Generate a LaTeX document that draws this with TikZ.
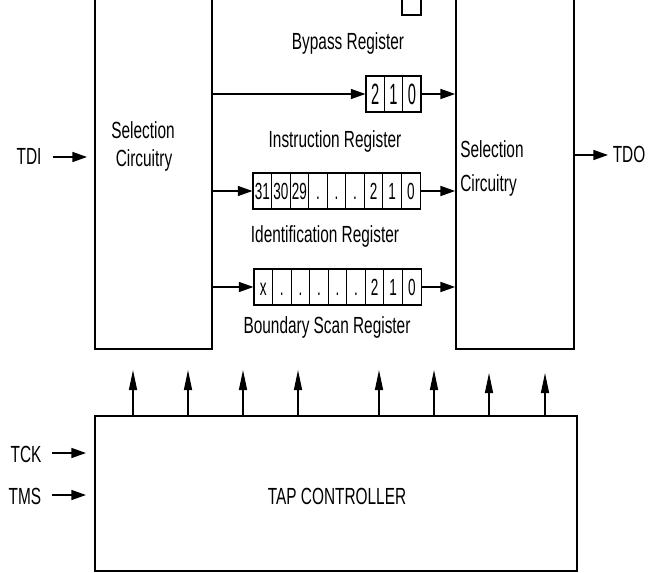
\documentclass[tikz,border=0pt]{standalone}
\usepackage{fontspec}
\setmainfont{Liberation Sans}[FakeStretch=0.66]
\newfontfamily\bigdigits{Liberation Sans}[FakeStretch=0.5]
\newfontfamily\celldigits{Liberation Sans}[FakeStretch=0.58]
\usetikzlibrary{arrows.meta,fit}
\begin{document}
\begin{tikzpicture}[x=0.75pt,y=-0.75pt,
  box/.style={draw,line width=1.3pt,inner sep=0pt},
  cell/.style={draw,line width=0.8pt,minimum width=13.92pt,minimum height=27pt,inner sep=0pt,
    text height=12.3pt,text depth=0pt,font=\celldigits\fontsize{17.5}{17.5}\selectfont},
  bcell/.style={cell,minimum width=13.75pt,text height=15.6pt,font=\bigdigits\fontsize{22}{22}\selectfont},
  arr/.style={line width=1.1pt,-{Triangle[length=11pt,width=7.5pt]}},
  uarr/.style={line width=1pt,-{Triangle[length=15pt,width=6pt]}},
  lbl/.style={anchor=base,inner sep=0pt,font=\fontsize{17.5}{17.5}\selectfont}]
\useasboundingbox (0,0) rectangle (648,573);
\clip (0,0) rectangle (648,573);
% main blocks
\node[box,fit={(95,-20) (212,349)}] (lsel) {};
\node[box,fit={(456,-20) (574,349)}] (rsel) {};
\node[box,fit={(95,416) (577,571)}] (tap) {};
\node[draw,line width=0.8pt,inner sep=0pt,fit={(402,-20) (421,15)}] (topbox) {};
% texts in blocks
\node[lbl] (lsel1) at (143,139) {Selection};
\node[lbl] (lsel2) at (144,167) {Circuitry};
\node[lbl,anchor=base west] (rsel1) at (460,158) {Selection};
\node[lbl,anchor=base west] (rsel2) at (460,192) {Circuitry};
\node[lbl] (taptxt) at (337,504) {TAP CONTROLLER};
% register labels
\node[lbl] (bpl) at (348,50) {Bypass Register};
\node[lbl] (irl) at (335,148) {Instruction Register};
\node[lbl] (idl) at (325,243) {Identification Register};
\node[lbl] (bsl) at (327,333) {Boundary Scan Register};
% bypass register cells
\foreach \t [count=\i] in {2,1,0}
  \node[bcell] (bp\i) at ({366+18.33*(\i-0.5)},94) {\t};
% instruction register cells
\foreach \t [count=\i] in {31,30,29,{.},{.},{.},2,1,0}
  \node[cell] (ir\i) at ({253+18.56*(\i-0.5)},191) {\t};
% identification register cells
\foreach \t [count=\i] in {x,{.},{.},{.},{.},{.},2,1,0}
  \node[cell] (id\i) at ({254+18.56*(\i-0.5)},287) {\t};
% register arrows
\draw[arr] (lsel.east |- bp1) -- (bp1.west);
\draw[arr] (bp3.east) -- (rsel.west |- bp3);
\draw[arr] (lsel.east |- ir1) -- (ir1.west);
\draw[arr] (ir9.east) -- (rsel.west |- ir9);
\draw[arr] (lsel.east |- id1) -- (id1.west);
\draw[arr] (id9.east) -- (rsel.west |- id9);
% external pins
\node[lbl] (tdi) at (29,165) {TDI};
\coordinate (tdis) at (53,157);
\coordinate (tdie) at (87,157);
\draw[arr] (tdis) -- (tdie);
\node[lbl] (tdo) at (629,163) {TDO};
\coordinate (tdos) at (575,155);
\coordinate (tdoe) at (608,155);
\draw[arr] (tdos) -- (tdoe);
\node[lbl] (tck) at (26,462) {TCK};
\coordinate (tcks) at (52,453);
\coordinate (tcke) at (86,453);
\draw[arr] (tcks) -- (tcke);
\node[lbl] (tms) at (25,504) {TMS};
\coordinate (tmss) at (52,495);
\coordinate (tmse) at (86,495);
\draw[arr] (tmss) -- (tmse);
% control arrows
\foreach \x/\t [count=\k] in {133/370,188/370,243/370,298/370,379/370,434/370,489/373,545/373} {
  \coordinate (u\k) at (\x,\t);
  \draw[uarr] (u\k |- tap.north) -- (u\k);
}
\end{tikzpicture}
\end{document}
